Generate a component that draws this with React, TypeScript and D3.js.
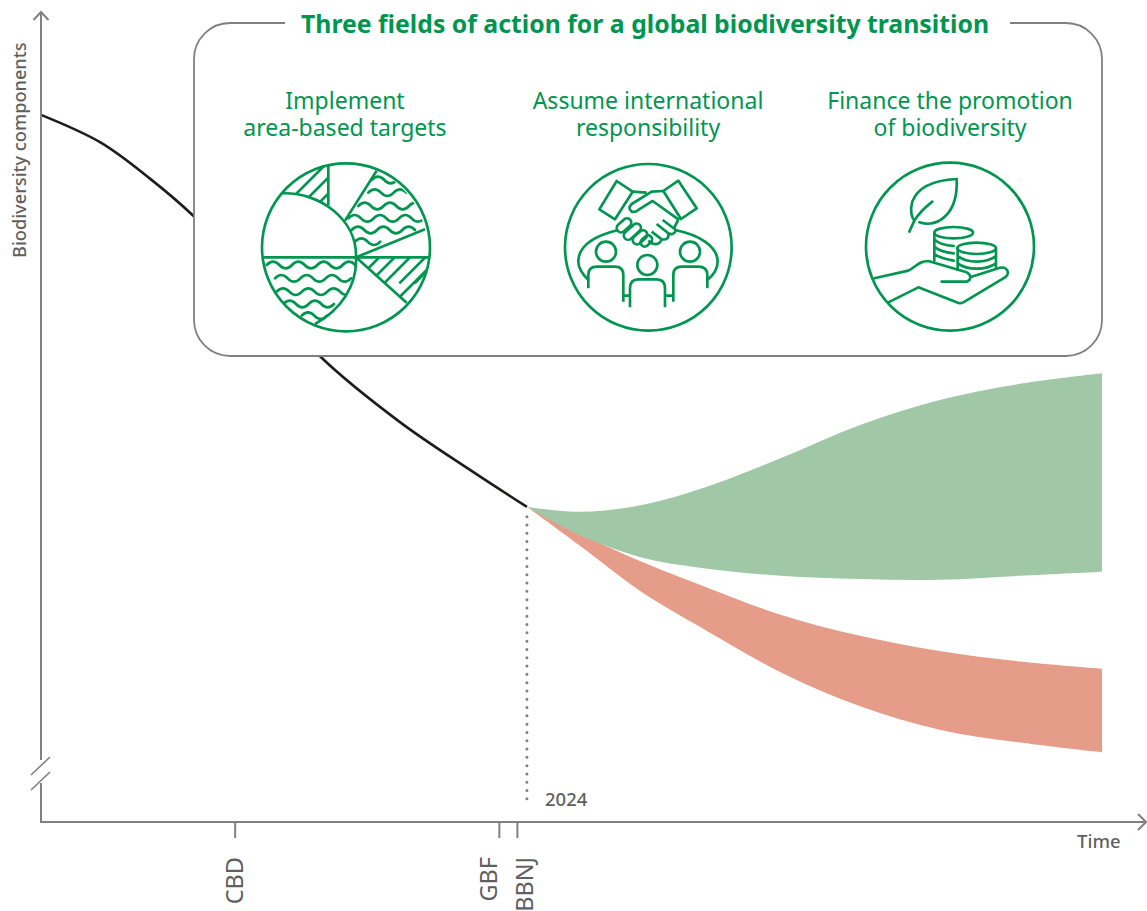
import * as d3 from "d3";

const GREEN = "#009650";
const GREY = "#808080";
const TEXT_GREY = "#5f5f5f";
const FONT = "'Noto Sans', sans-serif";

// time is 0-100 along the axis, biodiversity 0-100 up the axis
const pastTime = [0, 5.6, 10.3, 14.3, 19.7, 26.3, 33.8, 40.4, 45.8];
const pastValue = [87.3, 83.9, 79.4, 74.9, 67.3, 57.5, 49.4, 43.5, 38.9];

const futureTime = [45.8, 50.8, 56.5, 62.1, 69.7, 77.2, 84.7, 92.3, 100];
const greenUpper = [38.9, 38.3, 39.1, 41.1, 44.9, 49, 52.1, 54.1, 55.4];
const greenLower = [38.9, 35.4, 32.7, 31.4, 30.4, 30, 29.9, 30.4, 30.9];
const redUpper = [38.9, 35.6, 32.2, 29.3, 25.6, 23, 21.1, 19.8, 18.9];
const redLower = [38.9, 34.1, 28.5, 24.1, 18.5, 14.3, 11.4, 9.8, 8.6];

const transitionYear = 45.8;
const treatyTicks = ["CBD", "GBF", "BBNJ"];
const treatyTime = [18.3, 43.2, 44.9];
const treatyLabelShift = [0, -10, 8];

const fields = [
  ["Implement", "area-based targets"],
  ["Assume international", "responsibility"],
  ["Finance the promotion", "of biodiversity"],
];
const fieldCentres = [345, 648, 950];

const x = d3.scaleLinear().domain([0, 100]).range([41, 1102]);
const y = d3.scaleLinear().domain([0, 100]).range([822, 12]);

const pastLine = d3
  .line<number>()
  .x((_, i) => x(pastTime[i]))
  .y((d) => y(d))
  .curve(d3.curveCatmullRom)(pastValue)!;

const band = (upper: number[], lower: number[]) =>
  d3
    .area<number>()
    .x((_, i) => x(futureTime[i]))
    .y0((_, i) => y(lower[i]))
    .y1((d) => y(d))
    .curve(d3.curveCatmullRom)(upper)!;

// wavy hatch lines for the pie icon, in zoom units
const wave = (x0: number, x1: number, yy: number) => {
  let d = `M${x0},${yy}`;
  for (let px = x0, up = true; px + 19 < x1; px += 38, up = !up) {
    d += `Q${px + 19},${yy + (up ? -20 : 20)} ${px + 38},${yy}`;
  }
  return d;
};

const hatch = (x0: number, y0: number, n: number, step: number, len: number) =>
  d3.range(n).map((i) => `M${x0 + i * step},${y0}l${len},${-len}`).join("");

const wavesTop = [
  [395, 465, 90],
  [385, 495, 128],
  [355, 530, 168],
  [325, 550, 205],
  [335, 515, 240],
  [345, 440, 275],
];
const wavesBottom = [
  [80, 345, 345],
  [105, 340, 385],
  [110, 330, 425],
  [130, 290, 462],
  [185, 270, 497],
];

function PieIcon() {
  return (
    <g transform="translate(240,150) scale(0.3333)" fill="none" stroke={GREEN} strokeWidth={8}>
      <defs>
        <clipPath id="waveA">
          <path d="M348,322 C345,280 335,240 315,212 L410,62 A252,252 0 0 1 555,238 Z" />
        </clipPath>
        <clipPath id="waveB">
          <path d="M68,322 H348 C352,410 300,480 225,522 A252,252 0 0 1 68,322 Z" />
        </clipPath>
        <clipPath id="hatchA">
          <path d="M125,130 A252,252 0 0 1 265,45 V165 C220,140 175,130 125,130 Z" />
        </clipPath>
        <clipPath id="hatchB">
          <path d="M348,322 H566 A252,252 0 0 1 500,458 Z" />
        </clipPath>
      </defs>
      <circle cx={318} cy={292} r={252} />
      <path d="M68,322 H566" />
      <path d="M125,130 C240,125 352,210 348,322 C352,410 300,480 225,522" />
      <path d="M265,45 V165 M315,212 L410,62 M348,322 L555,238 M348,322 L500,458" />
      <g clipPath="url(#waveA)" strokeLinecap="round">
        {wavesTop.map(([a, b, yy]) => (
          <path key={yy} d={wave(a, b, yy)} />
        ))}
      </g>
      <g clipPath="url(#waveB)" strokeLinecap="round">
        {wavesBottom.map(([a, b, yy]) => (
          <path key={yy} d={wave(a, b, yy)} />
        ))}
      </g>
      <g clipPath="url(#hatchA)">
        <path d={hatch(100, 200, 5, 48, 160)} />
      </g>
      <g clipPath="url(#hatchB)">
        <path d={hatch(340, 400, 8, 46, 100)} />
        <path d={hatch(450, 470, 3, 46, 160)} />
      </g>
    </g>
  );
}

function TeamIcon() {
  return (
    <g transform="translate(550,150) scale(0.3333)" fill="none" stroke={GREEN} strokeWidth={8} strokeLinejoin="round">
      <circle cx={295} cy={292} r={250} />
      <path d="M200,93 L248,125 L195,208 L148,178 Z M385,92 L440,175 L393,207 L340,123 Z" />
      <path d="M248,125 L290,128 M340,123 L305,125 L245,162 Q232,175 245,185 Q255,188 265,180 L308,153 L385,208 L372,235" />
      <path d="M338,210 L378,240 Q372,258 355,250 L320,222 M355,250 Q358,272 335,268 L305,245 M335,268 Q328,288 305,280 L295,272" />
      <rect x={197} y={213} width={50} height={26} rx={13} transform="rotate(-42 222 226)" />
      <rect x={217} y={232} width={60} height={26} rx={13} transform="rotate(-42 247 245)" />
      <rect x={245} y={249} width={50} height={26} rx={13} transform="rotate(-42 270 262)" />
      <rect x={270} y={261} width={38} height={24} rx={12} transform="rotate(-42 289 273)" />
      <path d="M205,240 C130,258 85,290 85,335 C85,355 100,375 115,390" />
      <path d="M375,240 C450,255 503,290 503,335 C503,355 490,375 472,390" />
      <circle cx={168} cy={305} r={30} />
      <circle cx={292} cy={345} r={30} />
      <circle cx={420} cy={305} r={30} />
      <path d="M115,415 V375 Q115,350 140,350 H195 Q220,350 220,375 V455" />
      <path d="M240,472 V415 Q240,388 265,388 H320 Q345,388 345,415 V472" />
      <path d="M370,455 V375 Q370,350 395,350 H445 Q472,350 472,375 V415" />
      <path d="M220,437 H240 M345,437 H370" />
    </g>
  );
}

function FinanceIcon() {
  return (
    <g transform="translate(855,150) scale(0.3333)" fill="none" stroke={GREEN} strokeWidth={8} strokeLinejoin="round" strokeLinecap="round">
      <circle cx={285} cy={290} r={252} />
      <path d="M305,87 C250,90 190,105 172,155 C163,185 172,205 178,212" />
      <path d="M163,245 L178,212 C195,185 210,172 232,155" />
      <path d="M193,217 C250,235 310,190 305,87" />
      <ellipse cx={296} cy={248} rx={58} ry={17} />
      <path d="M238,248 V332 M238,268 Q255,285 296,288 M238,290 Q255,305 296,310 M238,312 Q255,325 296,332" />
      <ellipse cx={365} cy={295} rx={58} ry={17} />
      <path d="M308,295 V360 M423,295 V355 M308,318 Q330,335 365,335 Q400,335 423,318 M308,340 Q330,356 365,356 Q400,356 423,340" />
      <path d="M58,385 L160,362 C185,350 190,333 220,333 L335,367 C350,375 350,390 335,395 H260" />
      <path d="M350,380 L430,355 C455,345 472,372 445,385 L325,457 Q315,462 305,457 L190,412 L100,457" />
    </g>
  );
}

export default function App() {
  return (
    <svg
      width={1147}
      height={911}
      viewBox="0 0 1147 911"
      style={{ position: "absolute", left: 0, top: 0 }}
      fontFamily={FONT}
    >
      <path d={band(redUpper, redLower)} fill="#e59c88" />
      <path d={band(greenUpper, greenLower)} fill="#a1c8a6" />
      <path d={pastLine} fill="none" stroke="#1d1d1b" strokeWidth={2.6} />

      <line
        x1={x(transitionYear)}
        x2={x(transitionYear)}
        y1={y(37.7)}
        y2={807}
        stroke={GREY}
        strokeWidth={3}
        strokeLinecap="round"
        strokeDasharray="0 8.3"
      />
      <text x={545} y={806} fontSize={18.5} fontWeight={500} fill={TEXT_GREY}>
        2024
      </text>

      {/* axes */}
      <g fill="none" stroke={GREY} strokeWidth={2}>
        <path d="M41,760 V12 M33.5,20 L41,12 L48.5,20" />
        <path d="M41,783 V822 H1146 M1138,814 L1146,822 L1138,830" />
        <path d="M31,775 L50,757 M31,790 L50,772" strokeWidth={1.6} />
        {treatyTime.map((t) => (
          <line key={t} x1={x(t)} x2={x(t)} y1={822} y2={838} />
        ))}
      </g>
      {treatyTicks.map((name, i) => (
        <text
          key={name}
          transform={`translate(${x(treatyTime[i]) + treatyLabelShift[i] + 8},857) rotate(-90)`}
          textAnchor="end"
          fontSize={23.5}
          fill={TEXT_GREY}
        >
          {name}
        </text>
      ))}
      <text
        transform="translate(26,258) rotate(-90)"
        fontSize={18.2}
        fontWeight={500}
        fill={TEXT_GREY}
      >
        Biodiversity components
      </text>
      <text x={1077} y={848} fontSize={18.5} fontWeight={500} fill={TEXT_GREY}>
        Time
      </text>

      {/* panel */}
      <rect x={194} y={23} width={908} height={333} rx={36} fill="#fff" />
      <path
        d="M285,23 H230 A36,36 0 0 0 194,59 V320 A36,36 0 0 0 230,356 H1066 A36,36 0 0 0 1102,320 V59 A36,36 0 0 0 1066,23 H1010"
        fill="none"
        stroke={GREY}
        strokeWidth={1.8}
      />
      <text x={645} y={33} textAnchor="middle" fontSize={24.8} fontWeight={700} fill={GREEN}>
        Three fields of action for a global biodiversity transition
      </text>
      {fields.map((lines, i) => (
        <text key={i} textAnchor="middle" fontSize={23} fill={GREEN}>
          {lines.map((line, j) => (
            <tspan key={line} x={fieldCentres[i]} y={109 + j * 27}>
              {line}
            </tspan>
          ))}
        </text>
      ))}
      <PieIcon />
      <TeamIcon />
      <FinanceIcon />
    </svg>
  );
}
